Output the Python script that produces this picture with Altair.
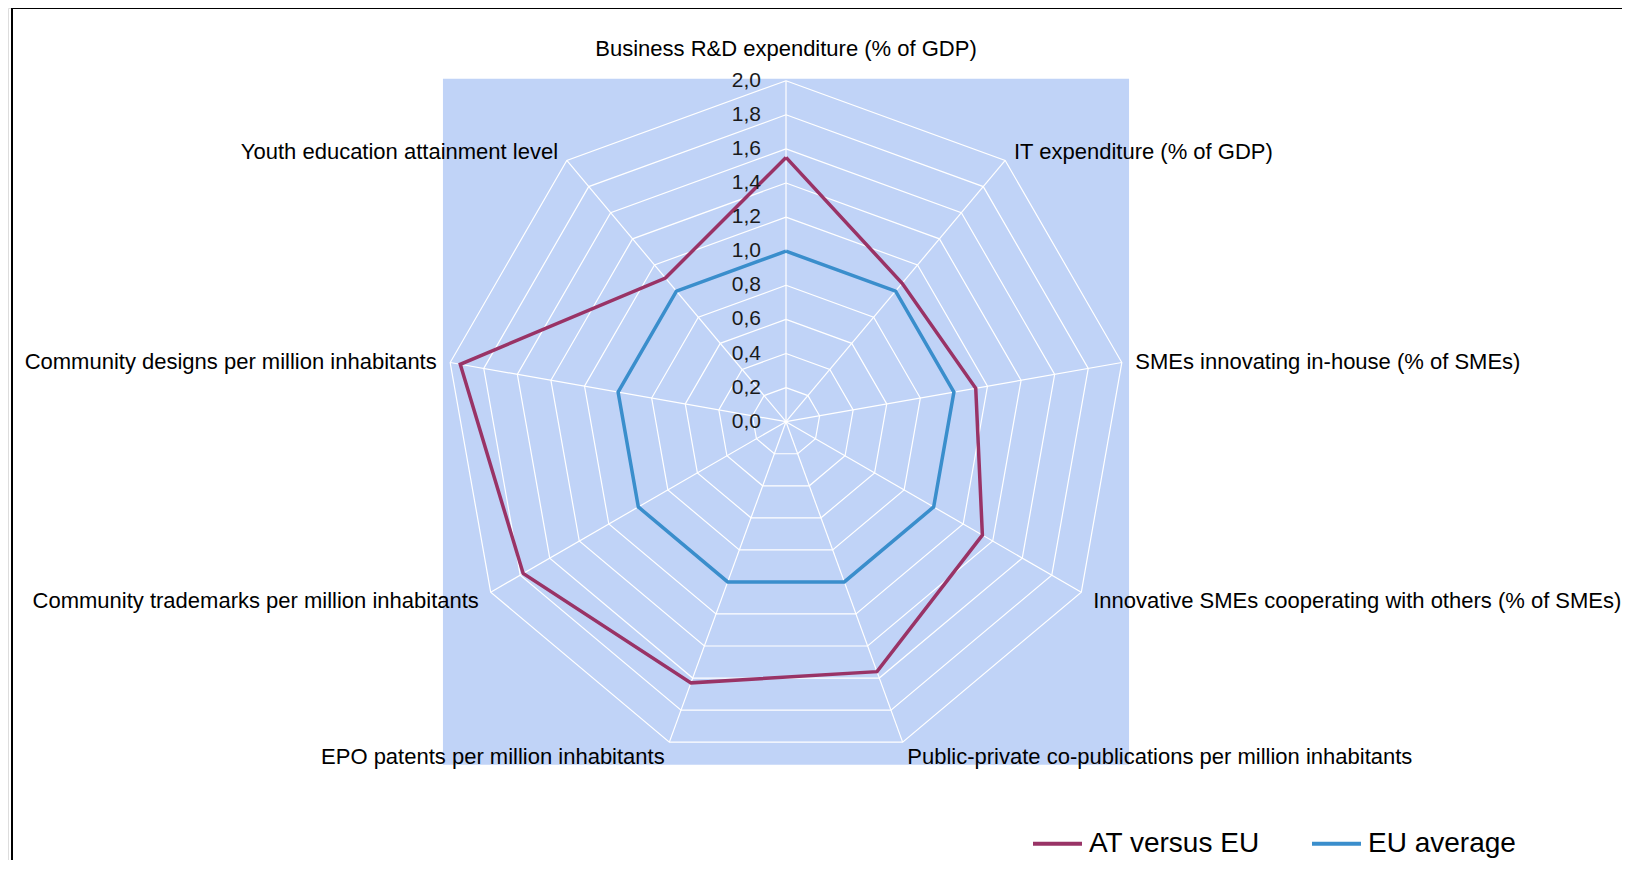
import altair as alt
import pandas as pd

# ---------------- data ----------------
categories = [
    "Business R&D expenditure (% of GDP)",
    "IT expenditure (% of GDP)",
    "SMEs innovating in-house (% of SMEs)",
    "Innovative SMEs cooperating with others (% of SMEs)",
    "Public-private co-publications per million inhabitants",
    "EPO patents per million inhabitants",
    "Community trademarks per million inhabitants",
    "Community designs per million inhabitants",
    "Youth education attainment level",
]
at_values = [1.55, 1.06, 1.13, 1.33, 1.56, 1.63, 1.78, 1.94, 1.10]
eu_values = [1.0, 1.0, 1.0, 1.0, 1.0, 1.0, 1.0, 1.0, 1.0]
series_names = ["AT versus EU", "EU average"]
ticks = [0.0, 0.2, 0.4, 0.6, 0.8, 1.0, 1.2, 1.4, 1.6, 1.8, 2.0]

# ---------------- styles ----------------
series_colors = ["#993366", "#3A8ECC"]
BG_BLUE = "#C0D3F7"
FONT = "Liberation Sans"
N = len(categories)
RMAX = max(ticks)

W, H = 1614, 852
UNIT = 170.5          # pixels per 1.0
CX, CY = 778, 413.7   # centre inside the plot area (px)
xscale = alt.Scale(domain=[-CX / UNIT, (W - CX) / UNIT], nice=False, zero=False)
yscale = alt.Scale(domain=[-(H - CY) / UNIT, CY / UNIT], nice=False, zero=False)

# ---------------- tables ----------------
rows = []
for name, vals in zip(series_names, [at_values, eu_values]):
    for k in range(N + 1):
        rows.append({"series": name, "idx": k % N, "r": vals[k % N], "ord": k})
series_df = pd.DataFrame(rows)

ring_rows = []
for t in ticks[1:]:
    for k in range(N + 1):
        ring_rows.append({"ring": t, "idx": k % N, "r": t, "ord": k})
rings_df = pd.DataFrame(ring_rows)

spokes_df = pd.DataFrame({"idx": list(range(N)), "r": [RMAX] * N})
labels_df = pd.DataFrame({"idx": list(range(N)), "cat": categories, "r": [RMAX * 1.04] * N})
ticks_df = pd.DataFrame({"t": ticks})

theta = f"datum.idx * 2 * PI / {N}"
def polar(ch):
    return ch.transform_calculate(
        px=f"datum.r * sin({theta})",
        py=f"datum.r * cos({theta})",
    )

X = lambda f: alt.X(f, type="quantitative", scale=xscale, axis=None)
Y = lambda f: alt.Y(f, type="quantitative", scale=yscale, axis=None)

background = alt.Chart(pd.DataFrame({"b": [RMAX * 1.006]})).transform_calculate(
    nb="-datum.b"
).mark_rect(color=BG_BLUE).encode(x=X("nb"), x2="b:Q", y=Y("nb"), y2="b:Q")

rings = polar(alt.Chart(rings_df)).mark_line(
    color="white", strokeWidth=1.2, strokeJoin="miter"
).encode(x=X("px"), y=Y("py"), detail="ring:N", order="ord:Q")

spokes = polar(alt.Chart(spokes_df)).transform_calculate(zero="0").mark_rule(
    color="white", strokeWidth=1.2
).encode(x=X("zero"), y=Y("zero"), x2="px:Q", y2="py:Q")

lines = polar(alt.Chart(series_df)).mark_line(
    strokeWidth=3.5, strokeJoin="miter"
).encode(
    x=X("px"),
    y=Y("py"),
    order="ord:Q",
    color=alt.Color(
        "series:N",
        scale=alt.Scale(domain=series_names, range=series_colors),
        legend=alt.Legend(
            title=None,
            orient="none",
            legendX=1023,
            legendY=809,
            direction="horizontal",
            symbolType="stroke",
            symbolSize=2400,
            symbolStrokeWidth=4,
            labelFontSize=28,
            labelFont=FONT,
            labelColor="black",
            labelOffset=5,
            columnPadding=44,
            labelLimit=500,
            padding=0,
        ),
    ),
)

tick_labels = alt.Chart(ticks_df).transform_calculate(
    zero="0", lab="replace(format(datum.t, '.1f'), '.', ',')"
).mark_text(align="right", baseline="middle", dx=-25, fontSize=21, font=FONT, color="#1a1a1a").encode(
    x=X("zero"), y=Y("t"), text="lab:N"
)

lab_base = polar(alt.Chart(labels_df))
top_lab = lab_base.transform_filter("datum.idx == 0").mark_text(
    align="center", baseline="bottom", dy=-6, fontSize=22, font=FONT, color="black"
).encode(x=X("px"), y=Y("py"), text="cat:N")
right_lab = lab_base.transform_filter(f"datum.idx > 0 && datum.idx <= {N // 2}").mark_text(
    align="left", baseline="middle", dy=2, fontSize=22, font=FONT, color="black"
).encode(x=X("px"), y=Y("py"), text="cat:N")
left_lab = lab_base.transform_filter(f"datum.idx > {N // 2}").mark_text(
    align="right", baseline="middle", dy=2, fontSize=22, font=FONT, color="black"
).encode(x=X("px"), y=Y("py"), text="cat:N")

frame_top = alt.Chart(pd.DataFrame({"a": [0]})).mark_rule(color="black", strokeWidth=2).encode(
    x=alt.value(4), x2=alt.value(W), y=alt.value(0)
)
frame_left = alt.Chart(pd.DataFrame({"a": [0]})).mark_rule(color="black", strokeWidth=2).encode(
    x=alt.value(4), y=alt.value(0), y2=alt.value(H)
)

chart = alt.layer(
    background, rings, spokes, lines, tick_labels, top_lab, right_lab, left_lab, frame_top, frame_left
).properties(
    width=W, height=H, autosize=alt.AutoSizeParams(type="none"), padding=0
).configure_view(stroke=None).configure(background="white")

chart.save("out.html", embed_options={"renderer": "svg", "actions": False})
